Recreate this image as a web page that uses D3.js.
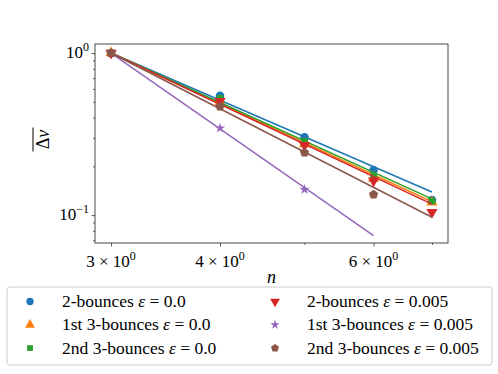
<!DOCTYPE html>
<html>
<head>
<meta charset="utf-8">
<script src="https://cdn.jsdelivr.net/npm/d3@7"></script>
<style>
  body { margin: 0; background: #fff; }
  text { font-family: "Liberation Serif", "DejaVu Serif", serif; fill: #000; }
</style>
</head>
<body>
<div id="chart"></div>
<script>
var svgWidth = 498;
var svgHeight = 374;

var margin = { top: 44, right: 50, bottom: 131, left: 95 };
var width = svgWidth - margin.left - margin.right;
var height = svgHeight - margin.top - margin.bottom;

// data
var labels = ["2-bounces \u03B5 = 0.0", "1st 3-bounces \u03B5 = 0.0", "2nd 3-bounces \u03B5 = 0.0",
              "2-bounces \u03B5 = 0.005", "1st 3-bounces \u03B5 = 0.005", "2nd 3-bounces \u03B5 = 0.005"];
var colors = ["#1f77b4", "#ff7f0e", "#2ca02c", "#d62728", "#9467bd", "#8c564b"];
var symbols = [d3.symbolCircle, d3.symbolTriangle, d3.symbolSquare, "triDown", d3.symbolStar, "pentagon"];

var nBlue = [3, 4, 5, 6, 7];
var vBlue = [1.0, 0.544, 0.302, 0.190, 0.124];
var nOrange = [3, 4, 5, 6, 7];
var vOrange = [1.0, 0.50, 0.275, 0.168, 0.120];
var nGreen = [3, 4, 5, 6, 7];
var vGreen = [1.0, 0.525, 0.285, 0.173, 0.122];
var nRed = [3, 4, 5, 6, 7];
var vRed = [1.0, 0.505, 0.270, 0.163, 0.104];
var nPurple = [3, 4, 5];
var vPurple = [1.0, 0.344, 0.144];
var nBrown = [3, 4, 5, 6];
var vBrown = [1.0, 0.468, 0.243, 0.134];

// fitted power-law lines: [n start, n end], [value start, value end]
var fitN = [[3, 7], [3, 7], [3, 7], [3, 7], [3, 6], [3, 7]];
var fitV = [[1.0, 0.139], [1.0, 0.121], [1.0, 0.126], [1.0, 0.117], [1.0, 0.0748], [1.0, 0.097]];

var xTickVals = [3, 4, 6];
var xMinorVals = [5, 7];
var yTickVals = [0.1, 1];

var seriesN = [nBlue, nOrange, nGreen, nRed, nPurple, nBrown];
var seriesV = [vBlue, vOrange, vGreen, vRed, vPurple, vBrown];

var svg = d3.select("#chart")
  .append("svg")
  .attr("width", svgWidth)
  .attr("height", svgHeight);

var chartGroup = svg.append("g")
  .attr("transform", `translate(${margin.left}, ${margin.top})`);

var xPad = Math.log(7 / 3) * 0.05;
var xScale = d3.scaleLog()
  .domain([3 * Math.exp(-xPad), 7 * Math.exp(xPad)])
  .range([0, width]);

var yScale = d3.scaleLog()
  .domain([0.0673, 1.137])
  .range([height, 0]);

function markerPath(sym, size) {
  if (sym === "triDown") {
    return d3.symbol(d3.symbolTriangle, size)().toString();
  }
  if (sym === "pentagon") {
    var r = Math.sqrt(size / 2.38);
    var pts = d3.range(5).map(function(i) {
      var a = -Math.PI / 2 + i * 2 * Math.PI / 5;
      return [r * Math.cos(a), r * Math.sin(a)];
    });
    return "M" + pts.join("L") + "Z";
  }
  return d3.symbol(sym, size)();
}

// axes
var bottomAxis = d3.axisBottom(xScale)
  .tickValues(xTickVals)
  .tickSize(3.5)
  .tickFormat(function() { return ""; });
var xAxis = chartGroup.append("g")
  .attr("transform", `translate(0, ${height})`)
  .call(bottomAxis);
chartGroup.append("g")
  .attr("transform", `translate(0, ${height})`)
  .call(d3.axisBottom(xScale).tickValues(xMinorVals).tickSize(2).tickFormat(""));

var yMinor = [];
[0.01, 0.1].forEach(function(dec) {
  for (var k = 2; k <= 9; k++) yMinor.push(dec * k);
});
yMinor = yMinor.filter(function(v) { return v > 0.0673 && v < 1.137; });

var leftAxis = d3.axisLeft(yScale).tickValues(yTickVals).tickSize(3.5).tickFormat("");
chartGroup.append("g").call(leftAxis);
chartGroup.append("g").call(d3.axisLeft(yScale).tickValues(yMinor).tickSize(2).tickFormat(""));

chartGroup.selectAll(".domain").remove();
chartGroup.selectAll(".tick line").attr("stroke", "#333").attr("stroke-width", 0.8);

// frame
chartGroup.append("rect")
  .attr("width", width)
  .attr("height", height)
  .attr("fill", "none")
  .attr("stroke", "#333")
  .attr("stroke-width", 0.9);

// tick labels
xTickVals.forEach(function(v) {
  var t = chartGroup.append("text")
    .attr("x", xScale(v))
    .attr("y", height + 24)
    .attr("text-anchor", "middle")
    .style("font-size", "17px");
  t.append("tspan").text(v + " \u00D7 10");
  t.append("tspan").attr("dy", -7).style("font-size", "12px").text("0");
});

yTickVals.forEach(function(v) {
  var t = chartGroup.append("text")
    .attr("x", -6)
    .attr("y", yScale(v) + 5)
    .attr("text-anchor", "end")
    .style("font-size", "17px");
  t.append("tspan").text("10");
  t.append("tspan").attr("dy", -7).style("font-size", "12px").text(v === 1 ? "0" : "\u22121");
});

// axis titles
chartGroup.append("text")
  .attr("x", width / 2)
  .attr("y", height + 40)
  .attr("text-anchor", "middle")
  .style("font-size", "18px")
  .style("font-style", "italic")
  .text("n");

var yLab = chartGroup.append("g")
  .attr("transform", `translate(${-46}, ${height / 2 - 4}) rotate(-90)`);
yLab.append("text")
  .attr("x", 0)
  .attr("y", 0)
  .attr("text-anchor", "middle")
  .style("font-size", "18px")
  .html("\u0394<tspan font-style='italic'>v</tspan>");
yLab.append("line")
  .attr("x1", -12).attr("x2", 12)
  .attr("y1", -16).attr("y2", -16)
  .attr("stroke", "#000")
  .attr("stroke-width", 1);

// series: markers then fit line
var markerSizes = [58, 55, 45, 55, 34, 55];
seriesN.forEach(function(ns, i) {
  chartGroup.selectAll(null)
    .data(ns.map(function(n, j) { return [n, seriesV[i][j]]; }))
    .enter()
    .append("path")
    .attr("d", markerPath(symbols[i], markerSizes[i]))
    .attr("transform", function(d) {
      return `translate(${xScale(d[0])}, ${yScale(d[1])})` + (symbols[i] === "triDown" ? " rotate(180)" : "");
    })
    .attr("fill", colors[i]);

  chartGroup.append("line")
    .attr("x1", xScale(fitN[i][0]))
    .attr("x2", xScale(fitN[i][1]))
    .attr("y1", yScale(fitV[i][0]))
    .attr("y2", yScale(fitV[i][1]))
    .attr("stroke", colors[i])
    .attr("stroke-width", 1.5);
});

// legend
var legend = svg.append("g").attr("transform", "translate(7, 287)");
legend.append("rect")
  .attr("width", 485)
  .attr("height", 78)
  .attr("rx", 3)
  .attr("fill", "#fff")
  .attr("stroke", "#ccc")
  .attr("stroke-width", 1);

var legendSizes = [42, 42, 34, 42, 28, 42];
labels.forEach(function(lab, i) {
  var col = Math.floor(i / 3);
  var row = i % 3;
  var gx = col === 0 ? 23 : 268;
  var gy = 14.5 + row * 23.3;
  legend.append("path")
    .attr("d", markerPath(symbols[i], legendSizes[i]))
    .attr("transform", `translate(${gx}, ${gy})` + (symbols[i] === "triDown" ? " rotate(180)" : ""))
    .attr("fill", colors[i]);
  var parts = lab.split("\u03B5");
  var t = legend.append("text")
    .attr("x", gx + 32)
    .attr("y", gy + 5.5)
    .style("font-size", "17.5px");
  t.append("tspan").text(parts[0]);
  t.append("tspan").style("font-style", "italic").text("\u03B5");
  t.append("tspan").text(parts[1]);
});
</script>
</body>
</html>
